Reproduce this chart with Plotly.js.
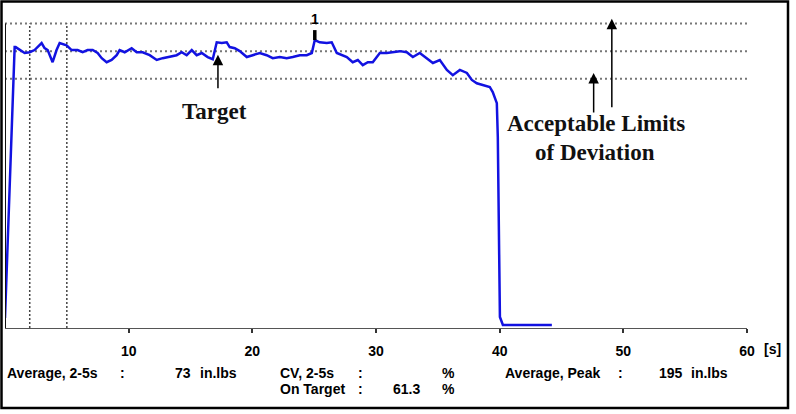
<!DOCTYPE html>
<html>
<head>
<meta charset="utf-8">
<script src="https://cdn.plot.ly/plotly-3.0.1.min.js"></script>
<style>
  html, body { margin: 0; padding: 0; background: #fff; }
  #chart { width: 796px; height: 414px; }
</style>
</head>
<body>
<div id="chart"></div>
<script>
// ---- data ----
const timeS = [0, 0.13, 0.32, 0.51, 0.64, 0.78, 0.86, 1.18, 1.59, 1.99, 2.39, 2.96, 3.20, 3.45, 3.85, 4.17, 4.42, 4.98, 5.39, 5.87,
  6.28, 6.68, 7.09, 7.49, 7.82, 8.22, 8.62, 9.03, 9.27, 9.68, 10.24, 10.65, 11.13, 11.70, 12.27, 12.75, 13.32, 13.88, 14.29, 14.69,
  15.10, 15.50, 15.91, 16.39, 16.80, 17.12, 17.53, 17.93, 18.17, 18.58, 18.98, 19.55, 20.03, 20.60, 21.16, 21.65, 22.22, 22.78, 23.27, 23.84,
  24.40, 24.81, 25.05, 25.45, 26.02, 26.42, 26.83, 27.23, 27.64, 28.12, 28.53, 28.93, 29.34, 29.74, 30.31, 30.87, 31.36, 31.93, 32.49, 32.98,
  33.54, 34.11, 34.60, 35.16, 35.73, 36.21, 36.78, 37.35, 37.75, 38.15, 38.64, 39.20, 39.44, 39.77, 39.85, 39.94, 40.02, 40.26, 41.47, 44.22];
const torque = [2.7, 14.9, 32.0, 49.0, 61.7, 76.1, 76.1, 75.3, 74.5, 74.7, 75.3, 77.2, 75.8, 75.3, 72.0, 75.3, 77.2, 76.6, 75.3, 75.3,
  74.7, 75.3, 75.3, 74.5, 73.1, 72.0, 72.6, 73.9, 75.3, 74.7, 75.8, 74.7, 74.7, 73.9, 72.6, 73.1, 73.4, 73.9, 74.7, 73.9,
  75.3, 73.9, 74.5, 73.4, 72.8, 77.4, 77.2, 77.4, 76.1, 75.8, 75.0, 73.4, 73.9, 74.5, 73.9, 73.1, 73.4, 73.1, 73.4, 73.9,
  73.9, 74.5, 78.0, 77.4, 77.2, 77.4, 74.5, 73.9, 73.4, 72.0, 72.6, 71.2, 72.0, 72.0, 74.5, 74.5, 74.7, 75.0, 74.7, 73.4,
  74.5, 73.1, 71.8, 72.6, 69.9, 68.5, 69.9, 69.1, 67.2, 66.3, 65.8, 65.3, 63.9, 60.9, 51.7, 15.7, 3.0, 0.8, 0.8, 0.8];

const targetValue = 75;
const limitLow = 67.5;
const limitHigh = 82.5;
const windowStart = 2;
const windowEnd = 5;
const peakTime = 25.05;
const peakValue = 78.0;
const peakLabel = '1';

const tickVals = [10, 20, 30, 40, 50, 60];
const tickText = ['10', '20', '30', '40', '50', '60'];
const unitLabel = '[s]';

const statsRow1 = ['Average, 2-5s', ':', '73', 'in.lbs', 'CV, 2-5s', ':', '%', 'Average, Peak', ':', '195', 'in.lbs'];
const statsRow2 = ['On Target', ':', '61.3', '%'];

// ---- layout helpers (pixel -> paper) ----
const M = {l: 5, r: 49, t: 5, b: 86};
const W = 796, H = 414;
const pw = W - M.l - M.r, ph = H - M.t - M.b;
const px = x => (x - M.l) / pw;
const py = y => (H - M.b - y) / ph;

const sansBold = {family: 'Liberation Sans, Arial, sans-serif', size: 14, color: '#000', weight: 'bold'};
const serifBold = {family: 'Liberation Serif, Times New Roman, serif', size: 23, color: '#111', weight: 'bold'};

function txt(text, xpx, ypx, anchor) {
  return {text: text, xref: 'paper', yref: 'paper', x: px(xpx), y: py(ypx),
    xanchor: anchor || 'left', yanchor: 'middle', showarrow: false, font: sansBold};
}
function arrow(xv, yv, ayPx) {
  return {text: '', xref: 'x', yref: 'y', x: xv, y: yv, ax: 0, ay: ayPx, axref: 'pixel', ayref: 'pixel',
    showarrow: true, arrowhead: 2, arrowsize: 1.4, arrowwidth: 1.5, arrowcolor: '#000', standoff: 0};
}

const annotations = [
  // stats rows
  txt(statsRow1[0], 5, 373),
  txt(statsRow1[1], 118, 373),
  txt(statsRow1[2], 173, 373),
  txt(statsRow1[3], 198, 373),
  txt(statsRow1[4], 278, 373),
  txt(statsRow1[5], 356, 373),
  txt(statsRow1[6], 440, 373),
  txt(statsRow1[7], 503, 373),
  txt(statsRow1[8], 616, 373),
  txt(statsRow1[9], 657, 373),
  txt(statsRow1[10], 689, 373),
  txt(statsRow2[0], 278, 389),
  txt(statsRow2[1], 356, 389),
  txt(statsRow2[2], 422, 389, 'right'),
  txt(statsRow2[3], 440, 389),
  // axis unit
  txt(unitLabel, 762, 349),
  // peak label
  {text: peakLabel, xref: 'x', yref: 'paper', x: peakTime, y: py(19), xanchor: 'center', yanchor: 'middle',
    showarrow: false, font: sansBold},
  // callouts
  {text: 'Target', xref: 'paper', yref: 'paper', x: px(214), y: py(111), xanchor: 'center', yanchor: 'middle',
    showarrow: false, font: serifBold},
  {text: 'Acceptable Limits', xref: 'paper', yref: 'paper', x: px(596), y: py(123), xanchor: 'center', yanchor: 'middle',
    showarrow: false, font: serifBold},
  {text: 'of Deviation', xref: 'paper', yref: 'paper', x: px(595), y: py(152), xanchor: 'center', yanchor: 'middle',
    showarrow: false, font: serifBold},
  arrow(17.22, targetValue - 1.0, 35),
  arrow(47.6, limitLow + 1.6, 41),
  arrow(49.07, limitHigh + 1.3, 90)
];

const dotted = {color: '#777', width: 2, dash: '2px,3px'};
const vdotted = {color: '#444', width: 1.5, dash: '2px,2px'};

const shapes = [
  // outer frame
  {type: 'rect', xref: 'paper', yref: 'paper', x0: px(1.5), x1: px(788), y0: py(408), y1: py(1.5),
    line: {color: '#000', width: 2.5}, layer: 'above'},
  // limit and target lines
  {type: 'line', xref: 'x', yref: 'y', x0: 0, x1: 60, y0: limitHigh, y1: limitHigh, line: dotted, layer: 'below'},
  {type: 'line', xref: 'x', yref: 'y', x0: 0, x1: 60, y0: targetValue, y1: targetValue, line: dotted, layer: 'below'},
  {type: 'line', xref: 'x', yref: 'y', x0: 0, x1: 60, y0: limitLow, y1: limitLow, line: dotted, layer: 'below'},
  // averaging window
  {type: 'line', xref: 'x', yref: 'y', x0: windowStart, x1: windowStart, y0: 0, y1: limitHigh, line: vdotted, layer: 'below'},
  {type: 'line', xref: 'x', yref: 'y', x0: windowEnd, x1: windowEnd, y0: 0, y1: limitHigh, line: vdotted, layer: 'below'},
  // y axis line
  {type: 'line', xref: 'x', yref: 'y', x0: 0, x1: 0, y0: 0, y1: limitHigh, line: {color: '#111', width: 2}, layer: 'above'},
  // peak marker bar
  {type: 'line', xref: 'x', yref: 'y', x0: peakTime, x1: peakTime, y0: peakValue, y1: peakValue + 2.7,
    line: {color: '#000', width: 3.5}, layer: 'above'}
];

const trace = {
  x: timeS, y: torque, type: 'scatter', mode: 'lines',
  line: {color: 'rgb(18,18,225)', width: 2.5},
  hoverinfo: 'skip', cliponaxis: false
};

const layout = {
  width: W, height: H,
  margin: M,
  paper_bgcolor: '#fff', plot_bgcolor: '#fff',
  showlegend: false,
  xaxis: {
    range: [0, 60], showgrid: false, zeroline: false,
    showline: true, linecolor: '#555', linewidth: 1,
    ticks: 'outside', ticklen: 4, tickwidth: 2, tickcolor: '#333',
    tickvals: tickVals, ticktext: tickText,
    tickfont: sansBold, ticklabelstandoff: 6, fixedrange: true
  },
  yaxis: {
    range: [0, 87.5], showgrid: false, zeroline: false, showline: false,
    showticklabels: false, ticks: '', fixedrange: true
  },
  annotations: annotations,
  shapes: shapes
};

Plotly.newPlot('chart', [trace], layout, {staticPlot: true, displayModeBar: false});
</script>
</body>
</html>
